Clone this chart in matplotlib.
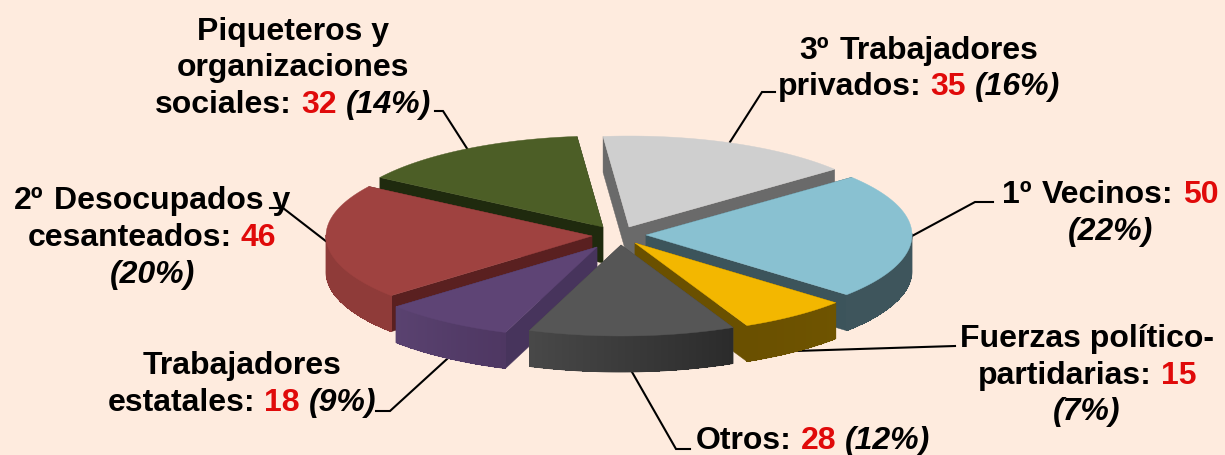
import re
import numpy as np
import matplotlib
matplotlib.use("Agg")
import matplotlib.pyplot as plt
from matplotlib.patches import Polygon

# ---- data (clockwise from the top) ----
categories = ["3º Trabajadores privados", "1º Vecinos", "Fuerzas político-partidarias", "Otros",
              "Trabajadores estatales", "2º Desocupados y cesanteados", "Piqueteros y organizaciones sociales"]
values = [35, 50, 15, 28, 18, 46, 32]
percents = [16, 22, 7, 12, 9, 20, 14]
label_lines = [
    ["3º Trabajadores", "privados: {v} {p}"],
    ["1º Vecinos: {v}", "{p}"],
    ["Fuerzas político-", "partidarias: {v}", "{p}"],
    ["Otros: {v} {p}"],
    ["Trabajadores", "estatales: {v} {p}"],
    ["2º Desocupados y", "cesanteados: {v}", "{p}"],
    ["Piqueteros y", "organizaciones", "sociales: {v} {p}"],
]

# ---- style ----
BG = "#FEEBDE"
top_colors = ["#CFCFCF", "#89C1D1", "#F3B700", "#565656", "#5E4475", "#9F4240", "#4C5E26"]
cut_colors = ["#6A6A6A", "#3C545B", "#6A5000", "#474747", "#47345C", "#5A2020", "#1F2A0E"]
arc_start = ["#6A6A6A", "#3E555C", "#6F5400", "#2B2B2B", "#4E3762", "#8F3B39", "#1F2A0E"]
arc_end = ["#6A6A6A", "#3E555C", "#6A5000", "#484848", "#5A4270", "#8F3B39", "#1F2A0E"]
draw_order = [6, 0, 5, 1, 4, 2, 3]
explode_dx = [12, 29, 18, 4, -20, -25, -14]
explode_dy = [-9, -1, 7, 9, 11, 0, -9]

CX, CY, RX, RY, DEPTH = 617, 236, 266, 91, 36
START = -5.6

# label anchors: centre x, baselines
label_pos = [
    (919, [59, 95]),
    (1110, [203, 240]),
    (1087, [347, 384, 420]),
    (813, [449]),
    (242, [374, 411]),
    (152, [209, 246, 283]),
    (293, [40, 76, 113]),
]
leaders = [
    [(775, 92), (762, 92), (730, 142)],
    [(993, 202), (975, 202), (912, 236)],
    [(955, 346), (795, 351)],
    [(690, 449), (676, 449), (632, 372)],
    [(376, 411), (390, 411), (447, 359)],
    [(270, 208), (283, 208), (327, 242)],
    [(435, 111), (443, 111), (468, 150)],
]

fig = plt.figure(figsize=(12.25, 4.55), dpi=100, facecolor=BG)
ax = fig.add_axes([0, 0, 1, 1])
ax.set_xlim(0, 1225)
ax.set_ylim(455, 0)
ax.axis("off")

for pts in leaders:
    xs, ys = zip(*pts)
    ax.plot(xs, ys, color="black", lw=1.5, zorder=1, solid_joinstyle="miter")

vals = np.array(values, float)
edges = START + np.concatenate([[0], np.cumsum(vals)]) / vals.sum() * 360


def rgb(c):
    return np.array(matplotlib.colors.to_rgb(c))


z = 2
for i in draw_order:
    a0, a1 = edges[i], edges[i + 1]
    tx = CX + explode_dx[i]
    ty = CY + explode_dy[i]
    th = np.radians(np.linspace(a0, a1, 120))
    px = tx + RX * np.sin(th)
    py = ty - RY * np.cos(th)
    # cut walls
    for ex, ey in ((px[0], py[0]), (px[-1], py[-1])):
        ax.add_patch(Polygon([(tx, ty), (ex, ey), (ex, ey + DEPTH), (tx, ty + DEPTH)],
                             closed=True, fc=cut_colors[i], ec=cut_colors[i], lw=0.3, zorder=z))
    z += 1
    # outer wall: one smooth base shape, then the shading along the arc
    front = np.cos(th) < 0.02
    if front.any():
        fx, fy = px[front], py[front]
        c0, c1 = rgb(arc_start[i]), rgb(arc_end[i])
        ax.add_patch(Polygon(np.column_stack([np.r_[fx, fx[::-1]], np.r_[fy, (fy + DEPTH)[::-1]]]),
                             closed=True, fc=(c0 + c1) / 2, ec=(c0 + c1) / 2, lw=0.6, zorder=z))
        z += 1
        n = len(fx) - 1
        for k in range(n):
            col = c0 + (c1 - c0) * k / max(n - 1, 1)
            ax.add_patch(Polygon([(fx[k], fy[k]), (fx[k + 1], fy[k + 1]),
                                  (fx[k + 1], fy[k + 1] + DEPTH), (fx[k], fy[k] + DEPTH)],
                                 closed=True, fc=col, ec="none", antialiased=False, zorder=z))
    z += 1
    # top face
    ax.add_patch(Polygon(np.column_stack([np.r_[tx, px], np.r_[ty, py]]),
                         closed=True, fc=top_colors[i], ec=top_colors[i], lw=0.3, zorder=z))
    z += 1

# ---- labels: black / red / bold italic runs centred on a line ----
FS = 23
ORDINAL_EXTRA = 2
renderer = fig.canvas.get_renderer()
base = dict(family="Liberation Sans", fontsize=FS, fontweight="bold", va="baseline", ha="left", zorder=200)


def measure(s, **kw):
    t = ax.text(0, 0, s, **{**base, **kw})
    w = t.get_window_extent(renderer).width
    t.remove()
    return w


space = measure("a a") - measure("aa")

for i, lines in enumerate(label_lines):
    cx, baselines = label_pos[i]
    for line, by in zip(lines, baselines):
        runs = []
        for part in re.split(r"(\{v\}|\{p\}|^\dº)", line):
            part = part.strip()
            if not part:
                continue
            if part == "{v}":
                runs.append((str(values[i]), dict(color="#E00A0A")))
            elif part == "{p}":
                runs.append((f"({percents[i]}%)", dict(color="black", style="italic")))
            else:
                runs.append((part, dict(color="black")))
        widths = [measure(s, **kw) for s, kw in runs]
        gaps = [space + (ORDINAL_EXTRA if s.endswith("º") else 0) for s, _ in runs[:-1]] + [0]
        x = cx - (sum(widths) + sum(gaps)) / 2
        for (s, kw), w, g in zip(runs, widths, gaps):
            ax.text(x, by, s, **{**base, **kw})
            x += w + g

fig.savefig("out.png", dpi=100, facecolor=BG)
